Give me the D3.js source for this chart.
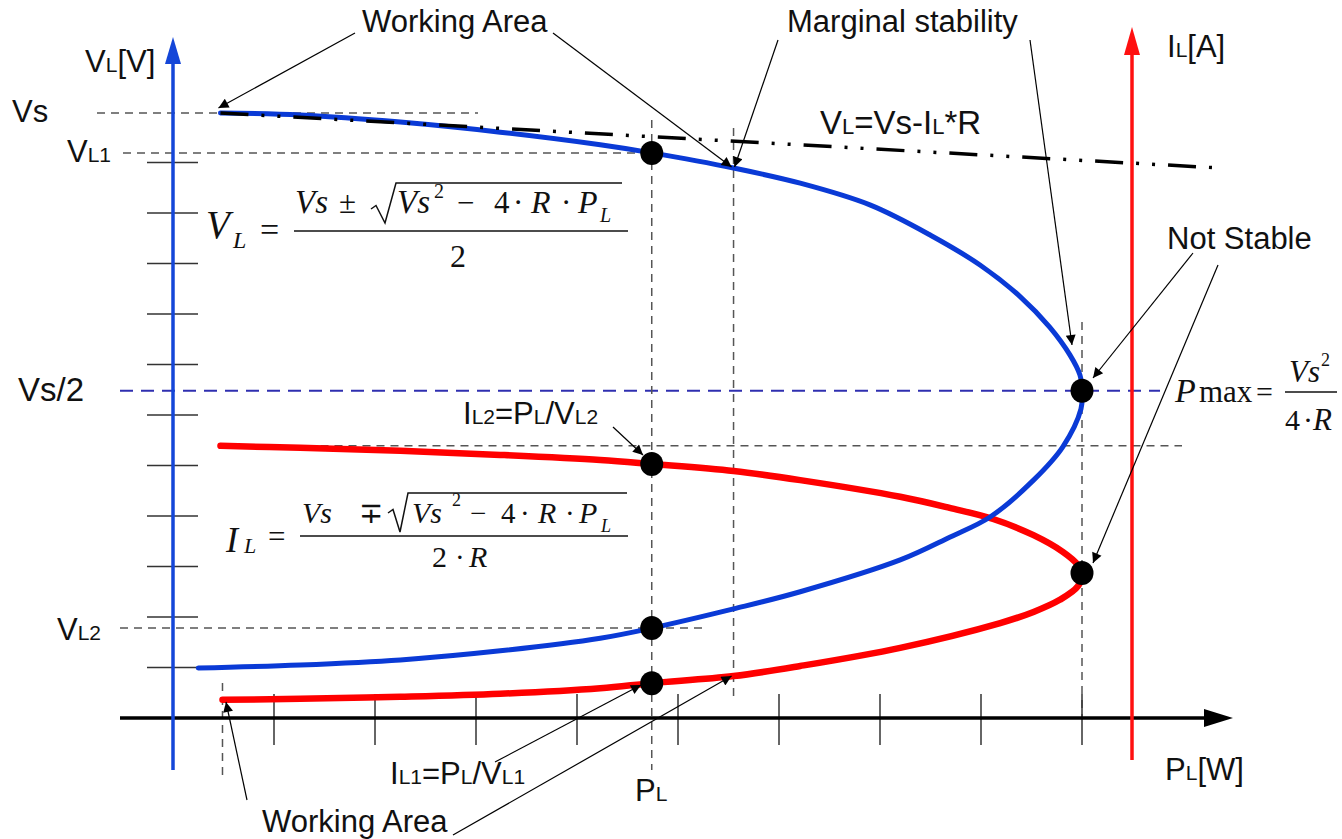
<!DOCTYPE html>
<html>
<head>
<meta charset="utf-8">
<script src="https://cdn.jsdelivr.net/npm/d3@7"></script>
<style>
  html, body { margin: 0; padding: 0; background: #fff; }
  svg { display: block; }
  .lbl { font-family: "Liberation Sans", Arial, sans-serif; fill: #111; }
  .math { font-family: "Liberation Serif", "Times New Roman", serif; fill: #111; }
</style>
</head>
<body>
<svg id="chart" width="1342" height="839"></svg>
<script>
// ---- values (P in tick units along the power axis, V / I in tick units on the vertical axis)
const powerTicks = [1, 2, 3, 4, 5, 6, 7, 8, 9];
const levelTicks = [1, 2, 3, 4, 5, 6, 7, 8, 9, 10, 11];

// load voltage V_L versus P_L (upper branch then lower branch)
const voltageCurve = [
  [0.47, 11.98], [1.26, 11.94], [2.25, 11.80], [3.24, 11.60], [4.23, 11.35],
  [4.74, 11.19], [5.55, 10.89], [6.21, 10.59], [6.90, 10.16], [7.50, 9.56],
  [7.99, 8.97], [8.39, 8.34], [8.68, 7.74], [8.88, 7.19], [8.98, 6.79],
  [9.00, 6.48],
  [8.99, 6.12], [8.81, 5.37], [8.52, 4.71], [8.09, 3.98], [7.69, 3.58],
  [7.20, 3.13], [6.21, 2.50], [5.55, 2.16], [4.74, 1.78], [4.23, 1.58],
  [3.24, 1.33], [2.25, 1.15], [1.26, 1.05], [0.25, 0.99]
];

// load current I_L versus P_L (upper branch then lower branch)
const currentCurve = [
  [0.47, 5.39], [1.26, 5.35], [2.25, 5.29], [3.24, 5.21], [4.23, 5.11],
  [4.74, 5.03], [5.55, 4.89], [6.21, 4.71], [7.20, 4.38], [7.69, 4.16],
  [8.12, 3.94], [8.52, 3.62], [8.81, 3.29], [8.96, 3.03], [9.00, 2.87],
  [8.96, 2.61], [8.78, 2.34], [8.52, 2.10], [8.19, 1.88], [7.20, 1.39],
  [6.21, 1.03], [5.55, 0.83], [4.74, 0.69], [4.23, 0.59], [3.24, 0.48],
  [2.25, 0.42], [1.26, 0.38], [0.49, 0.36]
];

// source line V_L = Vs - I_L*R
const sourceLine = [[0.47, 11.98], [10.38, 10.89]];

// operating points at P_L and at Pmax
const operatingPoints = [
  [4.74, 11.19], [4.74, 5.03], [4.74, 1.78], [4.74, 0.69],
  [9.00, 6.48], [9.00, 2.87]
];

// named levels
const levelVs = 11.98, levelVL1 = 11.19, levelHalf = 6.48, levelVL2 = 1.78, levelIStart = 5.39;
const powerPL = 4.74, powerMargin = 5.55, powerMax = 9.00, powerStart = 0.49;

// ---- scales
const x = d3.scaleLinear().domain([0, 9]).range([173, 1082]);
const y = d3.scaleLinear().domain([0, 12]).range([718, 112]);

const svg = d3.select("#chart");
const defs = svg.append("defs");
defs.append("marker")
  .attr("id", "arr").attr("viewBox", "0 0 10 10")
  .attr("refX", 10).attr("refY", 5)
  .attr("markerWidth", 15).attr("markerHeight", 10)
  .attr("markerUnits", "userSpaceOnUse").attr("orient", "auto")
  .append("path").attr("d", "M0,0 L10,5 L0,10 z").attr("fill", "#000");

const gGuide = svg.append("g");
const gray = "#555";
function hDash(level, x0, x1, color, dash, w) {
  gGuide.append("line")
    .attr("x1", x0).attr("x2", x1).attr("y1", y(level)).attr("y2", y(level))
    .attr("stroke", color).attr("stroke-width", w || 1.5).attr("stroke-dasharray", dash || "8,6");
}
function vDash(p, y0, y1) {
  gGuide.append("line")
    .attr("x1", x(p)).attr("x2", x(p)).attr("y1", y0).attr("y2", y1)
    .attr("stroke", gray).attr("stroke-width", 1.5).attr("stroke-dasharray", "8,6");
}
hDash(levelVs, 97, 478, gray);
hDash(levelVL1, 123, x(powerPL), gray);
hDash(levelIStart, x(powerStart), 1182, gray);
hDash(levelVL2, 120, 705, gray);
hDash(levelHalf, 120, 1160, "#2f2fb0", "13,8", 2);
vDash(powerPL, 120, 770);
vDash(powerMargin, 128, 700);
vDash(powerMax, 322, 718);
vDash(powerStart, 683, 778);

// ---- axes
const gAxis = svg.append("g");
// vertical level ticks
gAxis.selectAll(".yt").data(levelTicks).enter().append("line")
  .attr("x1", 147).attr("x2", 198)
  .attr("y1", d => y(d)).attr("y2", d => y(d))
  .attr("stroke", "#333").attr("stroke-width", 1.5);
// power ticks
gAxis.selectAll(".xt").data(powerTicks).enter().append("line")
  .attr("x1", d => x(d)).attr("x2", d => x(d))
  .attr("y1", y(0) - 24).attr("y2", y(0) + 27)
  .attr("stroke", "#333").attr("stroke-width", 1.5);
// power axis
gAxis.append("line").attr("x1", 120).attr("x2", 1210).attr("y1", y(0)).attr("y2", y(0))
  .attr("stroke", "#000").attr("stroke-width", 3.5);
gAxis.append("path").attr("d", `M1233,${y(0)} L1204,${y(0) - 9} L1204,${y(0) + 9} Z`).attr("fill", "#000");
// voltage axis
const blueAx = "#1446d8";
gAxis.append("line").attr("x1", x(0)).attr("x2", x(0)).attr("y1", 770).attr("y2", 58)
  .attr("stroke", blueAx).attr("stroke-width", 3.5);
gAxis.append("path").attr("d", `M${x(0)},37 L${x(0) - 8},64 L${x(0) + 8},64 Z`).attr("fill", blueAx);
// current axis
const redAx = "#ff1010";
const xI = 1132;
gAxis.append("line").attr("x1", xI).attr("x2", xI).attr("y1", 760).attr("y2", 50)
  .attr("stroke", redAx).attr("stroke-width", 3.5);
gAxis.append("path").attr("d", `M${xI},27 L${xI - 8},55 L${xI + 8},55 Z`).attr("fill", redAx);

// ---- curves
const line = d3.line().x(d => x(d[0])).y(d => y(d[1])).curve(d3.curveCatmullRom.alpha(0.5));
const gCurve = svg.append("g");
gCurve.append("path").attr("d", line(currentCurve))
  .attr("fill", "none").attr("stroke", "#ff0000").attr("stroke-width", 6.5).attr("stroke-linecap", "round");
gCurve.append("path").attr("d", line(voltageCurve))
  .attr("fill", "none").attr("stroke", "#0a3ad6").attr("stroke-width", 5).attr("stroke-linecap", "round");
gCurve.append("path").attr("d", d3.line().x(d => x(d[0])).y(d => y(d[1]))(sourceLine))
  .attr("fill", "none").attr("stroke", "#000").attr("stroke-width", 3.5)
  .attr("stroke-dasharray", "28,13,3,13,3,13");

// ---- operating points
svg.append("g").selectAll("ellipse").data(operatingPoints).enter().append("ellipse")
  .attr("cx", d => x(d[0])).attr("cy", d => y(d[1]))
  .attr("rx", 11.5).attr("ry", 12).attr("fill", "#000");

// ---- annotation arrows
const arrows = [
  [355, 33, x(0.45), y(11.98) - 5],
  [553, 33, x(powerMargin) - 2, y(10.89) - 1],
  [778, 40, x(powerMargin) + 1, y(10.89) - 1],
  [1030, 40, 1072, 345],
  [1193, 253, 1093, 378],
  [1218, 265, 1093, 563],
  [613, 427, 643, 455],
  [495, 762, 641, 685],
  [247, 800, 226, 702],
  [453, 835, x(powerMargin) - 2, y(0.83)]
];
svg.append("g").selectAll("line").data(arrows).enter().append("line")
  .attr("x1", d => d[0]).attr("y1", d => d[1]).attr("x2", d => d[2]).attr("y2", d => d[3])
  .attr("stroke", "#000").attr("stroke-width", 1.2).attr("marker-end", "url(#arr)");

// ---- labels with small subscript letters
const BIG = 31, SMALL = 21;
function rich(px, py, parts, big) {
  const t = svg.append("text").attr("class", "lbl").attr("x", px).attr("y", py);
  const b = big || BIG, s = Math.round(b * SMALL / BIG);
  parts.forEach(([str, small]) => t.append("tspan").attr("font-size", small ? s : b).text(str));
  return t;
}
rich(362, 32, [["Working Area"]]);
rich(787, 32, [["Marginal stability"]]);
rich(85, 72, [["V"], ["L", 1], ["[V]"]]);
rich(1167, 57, [["I"], ["L", 1], ["[A]"]]);
rich(12, 122, [["Vs"]]);
rich(67, 162, [["V"], ["L1", 1]]);
rich(820, 134, [["V"], ["L", 1], ["=Vs-I"], ["L", 1], ["*R"]], 33);
rich(1167, 249, [["Not Stable"]]);
rich(18, 401, [["Vs/2"]], 33);
rich(463, 424, [["I"], ["L2", 1], ["=P"], ["L", 1], ["/V"], ["L2", 1]]);
rich(57, 640, [["V"], ["L2", 1]]);
rich(390, 784, [["I"], ["L1", 1], ["=P"], ["L", 1], ["/V"], ["L1", 1]]);
rich(635, 801, [["P"], ["L", 1]]);
rich(1165, 780, [["P"], ["L", 1], ["[W]"]]);
rich(262, 832, [["Working Area"]]);

// ---- formulas
function piece(s, px, py, size, italic) {
  svg.append("text").attr("class", "math").attr("x", px).attr("y", py)
    .attr("font-size", size).attr("font-style", italic ? "italic" : "normal").text(s);
}
function bar(x0, x1, py) {
  svg.append("line").attr("x1", x0).attr("x2", x1).attr("y1", py).attr("y2", py)
    .attr("stroke", "#111").attr("stroke-width", 1.6);
}
function radical(d) {
  svg.append("path").attr("d", d).attr("fill", "none").attr("stroke", "#111")
    .attr("stroke-width", 1.5).attr("stroke-linejoin", "miter");
}
// V_L = (Vs ± sqrt(Vs^2 - 4 R P_L)) / 2
piece("V", 206, 238, 39, true);
piece("L", 233, 248, 24, true);
piece("=", 260, 241, 34, false);
bar(294, 628, 231);
piece("Vs", 295, 213, 33, true);
piece("±", 339, 213, 31, false);
radical("M371,209 L376,205.5 L385,223 L396,183 L622,183");
piece("Vs", 397, 213, 33, true);
piece("2", 434, 198, 20, false);
piece("−", 457, 213, 31, false);
piece("4", 494, 213, 31, false);
piece("·", 513, 213, 31, false);
piece("R", 531, 213, 32, true);
piece("·", 561, 213, 31, false);
piece("P", 578, 213, 32, true);
piece("L", 600, 222, 20, true);
piece("2", 450, 267, 32, false);

// I_L = (Vs ∓ sqrt(Vs^2 - 4 R P_L)) / (2 R)
piece("I", 226, 552, 36, true);
piece("L", 244, 553, 22, true);
piece("=", 268, 547, 31, false);
bar(300, 628, 536);
piece("Vs", 302, 523, 30, true);
piece("∓", 359, 523, 29, false);
radical("M388,513 L393,509.5 L400,532 L408,493 L627,493");
piece("Vs", 412, 523, 30, true);
piece("2", 452, 506, 18, false);
piece("−", 470, 523, 29, false);
piece("4", 501, 523, 29, false);
piece("·", 520, 523, 29, false);
piece("R", 538, 523, 30, true);
piece("·", 565, 523, 29, false);
piece("P", 579, 523, 30, true);
piece("L", 601, 532, 18, true);
piece("2", 432, 567, 30, false);
piece("·", 455, 567, 29, false);
piece("R", 469, 567, 30, true);

// Pmax = Vs^2 / (4 R)
piece("P", 1175, 402, 34, true);
piece("max", 1199, 402, 31, false);
piece("=", 1256, 402, 30, false);
bar(1285, 1337, 392);
piece("Vs", 1289, 382, 31, true);
piece("2", 1321, 366, 18, false);
piece("4", 1285, 430, 30, false);
piece("·", 1303, 430, 30, false);
piece("R", 1313, 430, 31, true);
</script>
</body>
</html>
